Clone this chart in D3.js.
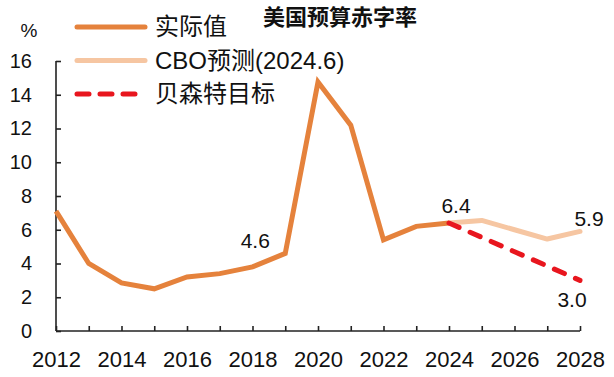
<!DOCTYPE html>
<html>
<head>
<meta charset="utf-8">
<script src="https://cdn.jsdelivr.net/npm/d3@7"></script>
<style>
  body { margin: 0; background: #fff; }
  svg { font-family: "Liberation Sans", Arial, "Noto Sans CJK SC", sans-serif; }
</style>
</head>
<body>
<div class="chart"></div>
<script>
//Data
var actualYears = [2012, 2013, 2014, 2015, 2016, 2017, 2018, 2019, 2020, 2021, 2022, 2023, 2024];
var actualValues = [7.1, 4.0, 2.85, 2.5, 3.2, 3.4, 3.8, 4.6, 14.75, 12.2, 5.4, 6.2, 6.4];
var cboYears = [2024, 2025, 2026, 2027, 2028];
var cboValues = [6.4, 6.55, 6.0, 5.45, 5.9];
var targetYears = [2024, 2028];
var targetValues = [6.4, 3.0];
var yTicks = [0, 2, 4, 6, 8, 10, 12, 14, 16];
var xTicks = [2012, 2014, 2016, 2018, 2020, 2022, 2024, 2026, 2028];
var seriesNames = ["实际值", "CBO预测(2024.6)", "贝森特目标"];

//Size
var w = 614;
var h = 377;

var svg = d3.select(".chart")
    .append("svg")
    .attr("width", w)
    .attr("height", h);

//Scales
var xScale = d3.scaleLinear()
    .domain([2012, 2028])
    .range([56, 580]);

var yScale = d3.scaleLinear()
    .domain([0, 16])
    .range([331, 61]);

//Axes (ticks point inward)
var xAxis = d3.axisBottom(xScale)
    .tickValues(d3.range(2012, 2029))
    .tickSize(-5)
    .tickFormat(d => xTicks.includes(d) ? d : "");
var gx = svg.append("g")
    .attr("transform", "translate(0," + yScale(0) + ")")
    .call(xAxis);

var yAxis = d3.axisLeft(yScale)
    .tickValues(yTicks)
    .tickSize(-5);
var gy = svg.append("g")
    .attr("transform", "translate(" + xScale(2012) + ",0)")
    .call(yAxis);

[gx, gy].forEach(g => {
    g.selectAll(".domain").attr("stroke", "#222").attr("stroke-width", 1.6);
    g.selectAll(".tick line").attr("stroke", "#222").attr("stroke-width", 1.6);
    g.selectAll(".tick text").attr("fill", "#111");
});
gx.select(".domain").attr("d", "M" + xScale(2012) + ",0H" + xScale(2028));
gx.selectAll(".tick text")
    .style("font-size", "22px")
    .attr("y", 20)
    .attr("dy", "0.71em");
gy.select(".domain").attr("d", "M0," + yScale(0) + "V" + yScale(16));
gy.selectAll(".tick text")
    .style("font-size", "20px")
    .attr("x", -24);

svg.append("text")
    .attr("x", 29)
    .attr("y", 37)
    .attr("text-anchor", "middle")
    .style("font-size", "19px")
    .attr("fill", "#111")
    .text("%");

//Lines
var line = d3.line()
    .x(d => xScale(d[0]))
    .y(d => yScale(d[1]));

svg.append("path")
    .datum(cboYears.map((y, i) => [y, cboValues[i]]))
    .attr("d", line)
    .attr("fill", "none")
    .attr("stroke", "#F6C6A2")
    .attr("stroke-width", 5)
    .attr("stroke-linecap", "round")
    .attr("stroke-linejoin", "round");

svg.append("path")
    .datum(actualYears.map((y, i) => [y, actualValues[i]]))
    .attr("d", line)
    .attr("fill", "none")
    .attr("stroke", "#E5823C")
    .attr("stroke-width", 5)
    .attr("stroke-linejoin", "miter");

svg.append("path")
    .datum(targetYears.map((y, i) => [y, targetValues[i]]))
    .attr("d", line)
    .attr("fill", "none")
    .attr("stroke", "#E8161E")
    .attr("stroke-width", 5)
    .attr("stroke-linecap", "round")
    .attr("stroke-dasharray", "11,12");

//Value labels: [year, value, text, dx, dy]
var labels = [
    [2019, 4.6, "4.6", -30, -5],
    [2024, 6.4, "6.4", 7, -10],
    [2028, 5.9, "5.9", 9, -5],
    [2028, 3.0, "3.0", -8, 27]
];
svg.selectAll(".vlabel")
    .data(labels)
    .enter()
    .append("text")
    .attr("class", "vlabel")
    .attr("x", d => xScale(d[0]) + d[3])
    .attr("y", d => yScale(d[1]) + d[4])
    .attr("text-anchor", "middle")
    .style("font-size", "21px")
    .attr("fill", "#111")
    .text(d => d[2]);

//Title
svg.append("text")
    .attr("x", 340)
    .attr("y", 25)
    .attr("text-anchor", "middle")
    .style("font-size", "22px")
    .style("font-weight", "bold")
    .attr("fill", "#111")
    .text("美国预算赤字率");

//Legend
var legendStyles = [
    {color: "#E5823C", dash: null},
    {color: "#F6C6A2", dash: null},
    {color: "#E8161E", dash: "12,11"}
];
var legend = svg.selectAll(".legend")
    .data(seriesNames)
    .enter()
    .append("g")
    .attr("class", "legend")
    .attr("transform", (d, i) => "translate(77," + (27 + i * 33.5) + ")");

legend.append("line")
    .attr("x1", 0)
    .attr("x2", 68)
    .attr("stroke", (d, i) => legendStyles[i].color)
    .attr("stroke-width", 5)
    .attr("stroke-linecap", "round")
    .attr("stroke-dasharray", (d, i) => legendStyles[i].dash);

legend.append("text")
    .attr("x", 78)
    .attr("y", 8)
    .style("font-size", "24px")
    .attr("fill", "#111")
    .text(d => d);
</script>
</body>
</html>
